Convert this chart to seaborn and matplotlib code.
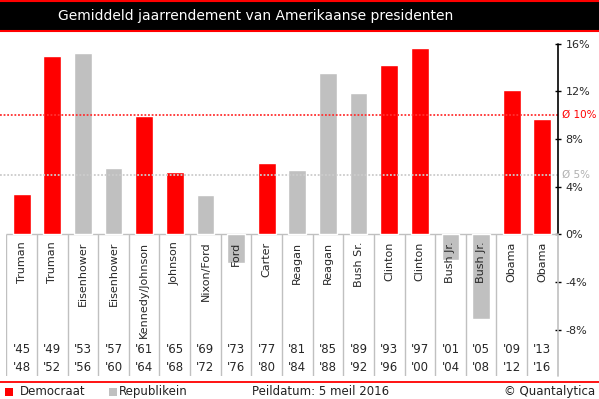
import pandas as pd
import matplotlib.pyplot as plt
from matplotlib.patches import Rectangle
from matplotlib.lines import Line2D
import seaborn as sns

sns.set_style("white")
plt.rcParams['font.family'] = ['DejaVu Sans']

# data
names = ["Truman", "Truman", "Eisenhower", "Eisenhower", "Kennedy/Johnson", "Johnson",
         "Nixon/Ford", "Ford", "Carter", "Reagan", "Reagan", "Bush Sr.", "Clinton",
         "Clinton", "Bush Jr.", "Bush Jr.", "Obama", "Obama"]
start_years = ["'45", "'49", "'53", "'57", "'61", "'65", "'69", "'73", "'77",
               "'81", "'85", "'89", "'93", "'97", "'01", "'05", "'09", "'13"]
end_years = ["'48", "'52", "'56", "'60", "'64", "'68", "'72", "'76", "'80",
             "'84", "'88", "'92", "'96", "'00", "'04", "'08", "'12", "'16"]
party = ["Democraat", "Democraat", "Republikein", "Republikein", "Democraat", "Democraat",
         "Republikein", "Republikein", "Democraat", "Republikein", "Republikein", "Republikein",
         "Democraat", "Democraat", "Republikein", "Republikein", "Democraat", "Democraat"]
returns = [3.4, 15.0, 15.2, 5.6, 9.9, 5.2, 3.3, -2.4, 6.0, 5.4, 13.5, 11.9,
           14.2, 15.6, -2.2, -7.15, 12.1, 9.7]
avg_dem = 10
avg_rep = 5
yticks = [-8, -4, 0, 4, 8, 12, 16]

colors = {"Democraat": "#ff0000", "Republikein": "#c0c0c0"}

df = pd.DataFrame({"idx": range(len(names)), "name": names, "party": party, "ret": returns})

fig = plt.figure(figsize=(5.99, 3.99), dpi=100)
ax = fig.add_axes([6.3 / 599, 1 - 375.5 / 399, 551.4 / 599, (375.5 - 43.7) / 399])

sns.barplot(data=df, x="idx", y="ret", hue="party", palette=colors, dodge=False,
            width=0.58, legend=False, saturation=1, ax=ax, zorder=2)

n = len(names)
ax.set_xlim(-0.5, n - 0.5)
ax.set_ylim(-11.86, 16)
for s in ax.spines.values():
    s.set_visible(False)
ax.set_xlabel("")
ax.set_ylabel("")
ax.set_xticks([])

# separators and zero line
ax.vlines([k - 0.5 for k in range(n)], -11.86, 0, color="#c0c0c0", lw=1, zorder=1)
ax.hlines(0, -0.5, n - 0.5, color="#c0c0c0", lw=1, zorder=1)
# right axis: black above zero, grey below
ax.plot([n - 0.5, n - 0.5], [0, 16], color="black", lw=1.2, zorder=4, clip_on=False)
ax.plot([n - 0.5, n - 0.5], [-11.86, 0], color="#c0c0c0", lw=1.2, zorder=4, clip_on=False)

ax.yaxis.tick_right()
ax.set_yticks(yticks)
ax.set_yticklabels([f"{v}%" for v in yticks], fontsize=8)
ax.tick_params(axis="y", direction="inout", length=5, width=1, color="black", pad=3)

# average lines
x0 = -0.5 - 6.3 / 30.6
ax.plot([x0, n - 0.5], [avg_dem, avg_dem], color="#ff3030", lw=1.3,
        linestyle=(0, (1, 1)), zorder=3, clip_on=False)
ax.plot([x0, n - 0.5], [avg_rep, avg_rep], color="#cccccc", lw=1.3,
        linestyle=(0, (1, 1)), zorder=3, clip_on=False)
trans = ax.get_yaxis_transform()
ax.annotate("Ø 10%", (1.0, avg_dem), xycoords=trans, xytext=(3, 0), textcoords="offset points",
            color="#ff0000", fontsize=7.5, va="center", ha="left", annotation_clip=False)
ax.annotate("Ø 5%", (1.0, avg_rep), xycoords=trans, xytext=(3, 0), textcoords="offset points",
            color="#b0b0b0", fontsize=7.5, va="center", ha="left", annotation_clip=False)

# category labels
for i in range(n):
    ax.text(i, -0.6, names[i], rotation=90, ha="center", va="top", fontsize=8, zorder=5)
    ax.text(i, -9.64, start_years[i], ha="center", va="center", fontsize=8.5)
    ax.text(i, -11.2, end_years[i], ha="center", va="center", fontsize=8.5)

# title band
fig.patches.append(Rectangle((0, 1 - 31 / 399), 1, 29 / 399, transform=fig.transFigure,
                             facecolor="black", edgecolor="none"))
fig.lines.append(Line2D([0, 1], [1 - 1 / 399, 1 - 1 / 399], transform=fig.transFigure,
                        color="#ff0000", lw=1.5))
fig.lines.append(Line2D([0, 1], [1 - 31 / 399, 1 - 31 / 399], transform=fig.transFigure,
                        color="#ff0000", lw=1.5))
fig.text(256 / 599, 1 - 16 / 399, "Gemiddeld jaarrendement van Amerikaanse presidenten",
         color="white", fontsize=10, ha="center", va="center")

# footer
fig.lines.append(Line2D([0, 1], [1 - 381.7 / 399, 1 - 381.7 / 399], transform=fig.transFigure,
                        color="#ff0000", lw=1.3))
fy = 1 - 391.5 / 399
fig.patches.append(Rectangle((5 / 599, 1 - 395.5 / 399), 8 / 599, 8 / 399,
                             transform=fig.transFigure, facecolor=colors["Democraat"],
                             edgecolor="none"))
fig.text(20 / 599, fy, "Democraat", fontsize=8.5, color="#222222", va="center")
fig.patches.append(Rectangle((109 / 599, 1 - 395.5 / 399), 8 / 599, 8 / 399,
                             transform=fig.transFigure, facecolor=colors["Republikein"],
                             edgecolor="none"))
fig.text(119 / 599, fy, "Republikein", fontsize=8.5, color="#222222", va="center")
fig.text(252 / 599, fy, "Peildatum: 5 meil 2016", fontsize=8.5, color="#222222", va="center")
fig.text(595 / 599, fy, "© Quantalytica", fontsize=8.5, color="#222222", va="center", ha="right")

plt.savefig("out.png", dpi=100)
